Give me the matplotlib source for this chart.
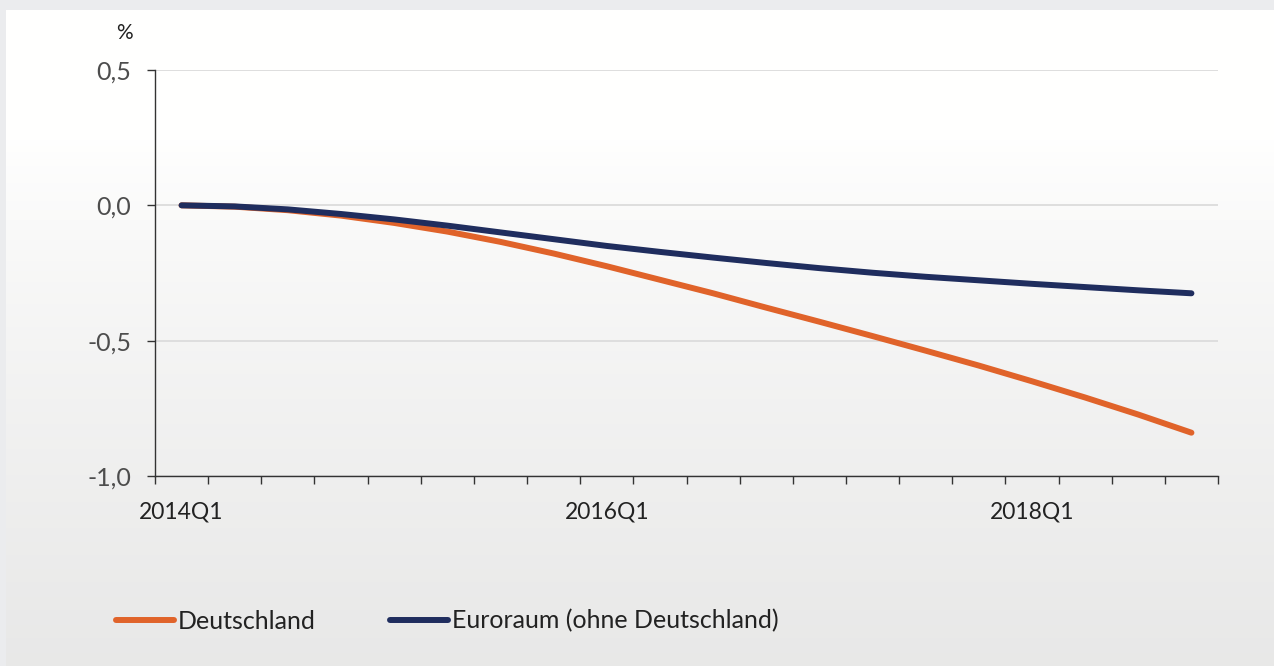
import numpy as np
import matplotlib.pyplot as plt
from matplotlib.ticker import FixedLocator, NullFormatter

plt.rcParams['font.family'] = ['Lato', 'DejaVu Sans']

# Quartale 2014Q1 .. 2018Q4
quartale = [f"{j}Q{q}" for j in range(2014, 2019) for q in range(1, 5)]
label_quartale = ["2014Q1", "2016Q1", "2018Q1"]

# Abweichung in %
deutschland = [0.0, -0.005, -0.018, -0.038, -0.065, -0.097, -0.135, -0.178,
               -0.225, -0.275, -0.325, -0.378, -0.43, -0.483, -0.537, -0.592,
               -0.65, -0.71, -0.773, -0.84]
euroraum = [0.0, -0.004, -0.015, -0.032, -0.052, -0.075, -0.1, -0.125,
            -0.15, -0.172, -0.193, -0.213, -0.232, -0.249, -0.264, -0.277,
            -0.29, -0.302, -0.314, -0.325]

y_ticks = [0.5, 0.0, -0.5, -1.0]
y_labels = ["0,5", "0,0", "-0,5", "-1,0"]

ORANGE = '#e0632a'
NAVY = '#1f2d5e'

W, H = 1274, 666
fig = plt.figure(figsize=(W / 100, H / 100), dpi=100, facecolor='#ebecee')

# Hintergrund mit Verlauf
bg = fig.add_axes([6 / W, 0, 1 - 6 / W, (H - 10) / H], zorder=0)
rows = np.linspace(0, 1, 400)
shade = np.where(rows < 0.2, 1.0, 1.0 - 0.09 * ((rows - 0.2) / 0.8) ** 0.8)
grad = np.repeat(shade[:, None], 2, axis=1)
bg.imshow(np.dstack([grad, grad, grad * 0.998]), aspect='auto',
          extent=[0, 1, 0, 1], vmin=0, vmax=1)
bg.axis('off')

ax = fig.add_axes([155 / W, 1 - 476 / H, (1218 - 155) / W, (476 - 70) / H], zorder=1)
ax.patch.set_alpha(0)

x = np.arange(len(quartale))
ax.plot(x, deutschland, color=ORANGE, lw=4.3, solid_capstyle='round',
        label='Deutschland', zorder=3)
ax.plot(x, euroraum, color=NAVY, lw=4.3, solid_capstyle='round',
        label='Euroraum (ohne Deutschland)', zorder=4)

ax.set_xlim(-0.5, len(quartale) - 0.5)
ax.set_ylim(-1.0, 0.5)

# y-Achse
ax.set_yticks(y_ticks)
ax.set_yticklabels(y_labels, fontsize=18, color='#4d4d4d')
ax.tick_params(axis='y', length=6, width=1, color='#333333', pad=11)
ax.grid(axis='y', color='#dedede', lw=1.4, zorder=1)

# x-Achse: Striche an den Quartalsgrenzen, Beschriftung mittig
ax.xaxis.set_major_locator(FixedLocator(np.arange(-0.5, len(quartale), 1)))
ax.xaxis.set_major_formatter(NullFormatter())
ax.tick_params(axis='x', which='major', length=6, width=1, color='#333333')
ax.set_xticks([quartale.index(q) for q in label_quartale], minor=True)
ax.set_xticklabels(label_quartale, minor=True, fontsize=16.5, color='#222222')
ax.tick_params(axis='x', which='minor', length=0, pad=18)

for s in ['top', 'right']:
    ax.spines[s].set_visible(False)
for s in ['left', 'bottom']:
    ax.spines[s].set_color('#333333')
    ax.spines[s].set_linewidth(1)

fig.text(124 / W, 1 - 33 / H, '%', fontsize=15, color='#222222',
         ha='center', va='center')

fig.legend(loc='center left', bbox_to_anchor=(116 / W, 1 - 621 / H),
           ncol=2, frameon=False, fontsize=18, handlelength=2.3,
           handletextpad=0.16, columnspacing=3.0, borderpad=0,
           borderaxespad=0, labelcolor='#222222')

fig.savefig('out.png', dpi=100, facecolor=fig.get_facecolor())
